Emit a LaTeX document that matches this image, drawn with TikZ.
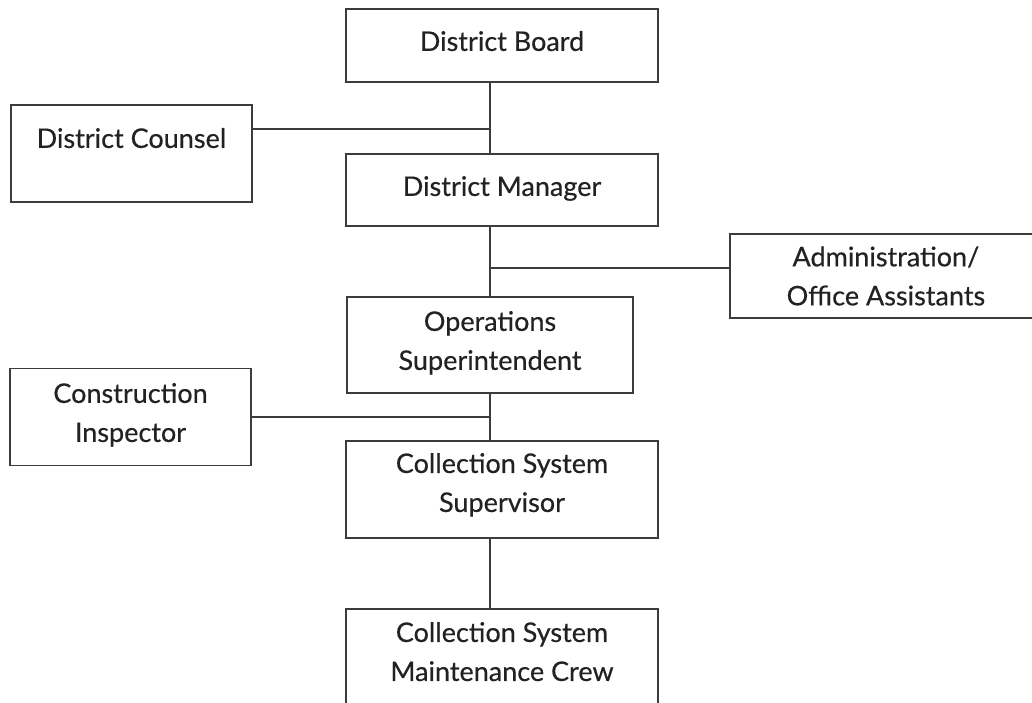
\documentclass[tikz,border=0pt]{standalone}
\usepackage{fontspec}
\setmainfont{Lato}[UprightFeatures={FakeBold=0.4}]
\definecolor{ln}{HTML}{3C3C3C}
\definecolor{tx}{HTML}{222222}
\begin{document}
\begin{tikzpicture}[x=1pt,y=1pt,
  box/.style={draw=ln, line width=1.8pt, fill=white, inner sep=0pt, align=center,
    text=tx, font=\fontsize{27}{39}\selectfont},
  openbox/.style={box, draw=none},
  conn/.style={draw=ln, line width=1.8pt}]
\useasboundingbox (0,0) rectangle (1032,-703);
% boxes
\node[box, minimum width=312, text height=42, text depth=31] (board) at (502,-8) [anchor=north] {District Board};
\node[box, minimum width=312, text height=42, text depth=30] (manager) at (502,-153) [anchor=north] {District Manager};
\node[box, minimum width=241, text height=43, text depth=54] (counsel) at (10,-104) [anchor=north west] {District Counsel};
\node[openbox, minimum width=340, minimum height=82, anchor=west] (admin) at (730,-276) {\hspace*{-30pt}Administration/\\\hspace*{-30pt}Office Assistants};
\draw[conn] (admin.north east) -- (admin.north west) -- (admin.south west) -- (admin.south east);
\node[box, minimum width=286, minimum height=96] (ops) at (490,-345) {Operations\\Superintendent\rule[-9pt]{0pt}{9pt}};
\node[box, minimum width=241, minimum height=97] (cons) at (130.5,-417) {Construction\\Inspector\rule[-9pt]{0pt}{9pt}};
\node[box, minimum width=312, minimum height=97] (sup) at (502,-489.5) {Collection System\\Supervisor\rule[-14pt]{0pt}{14pt}};
\node[box, minimum width=312, minimum height=101] (crew) at (502,-659.5) {Collection System\\Maintenance Crew\rule[-16pt]{0pt}{16pt}};
% connectors
\coordinate (j1) at (490,-129);
\coordinate (j2) at (490,-268);
\draw[conn] (board.south -| ops.north) -- (manager.north -| ops.north);
\draw[conn] (counsel.east |- j1) -- (j1);
\draw[conn] (manager.south -| ops.north) -- (ops.north);
\draw[conn] (j2) -- (admin.west |- j2);
\draw[conn] (ops.south) -- (ops.south |- sup.north);
\draw[conn] (cons.east) -- (cons.east -| ops.south);
\draw[conn] (ops.south |- sup.south) -- (ops.south |- crew.north);
\end{tikzpicture}
\end{document}
